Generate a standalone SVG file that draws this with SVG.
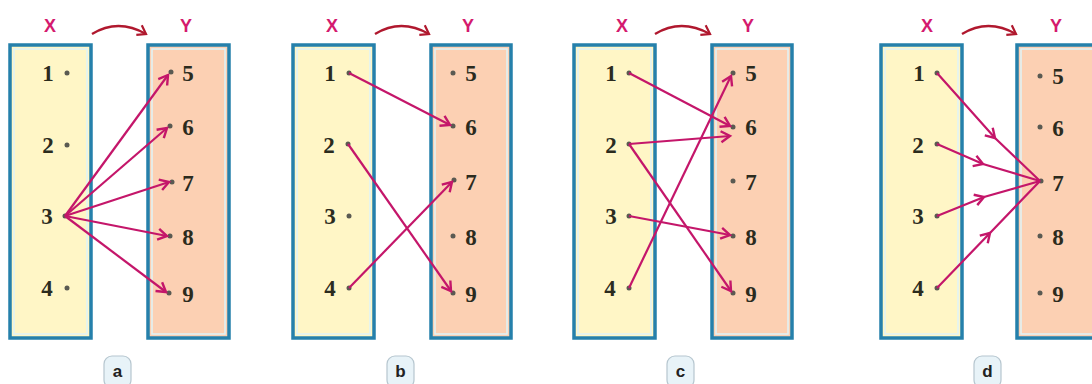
<svg xmlns="http://www.w3.org/2000/svg" width="1092" height="384" viewBox="0 0 1092 384">
<style>
.bx{stroke:#2580ab;stroke-width:3.5}
.xf{fill:#fff6c6}
.yf{fill:#fcd0b3}
.in{fill:none;stroke:#dff3f8;stroke-width:1.5}
.num{font-family:"Liberation Serif",serif;font-weight:bold;font-size:23px;fill:#2b2b1e;text-anchor:middle}
.hd{font-family:"Liberation Sans",sans-serif;font-weight:bold;font-size:18px;fill:#d41a6e;text-anchor:middle}
.dot{fill:#5a5a52}
.ar{fill:none;stroke:#c4166a;stroke-width:2.2;marker-end:url(#ah)}
.am{fill:none;stroke:#c4166a;stroke-width:2.2;marker-mid:url(#ah)}
.cv{fill:none;stroke:#b0182e;stroke-width:2.4;marker-end:url(#ch)}
.bg{fill:#e8f3f8;stroke:#b6c6cf;stroke-width:1.2}
.bt{font-family:"Liberation Sans",sans-serif;font-weight:bold;font-size:17px;fill:#222;text-anchor:middle}
</style>
<defs>
<marker id="ah" markerUnits="userSpaceOnUse" markerWidth="14" markerHeight="14" refX="11" refY="7" orient="auto">
<path d="M2,1.5 L11,7 L2,12.5" fill="none" stroke="#c4166a" stroke-width="2.4"/>
</marker>
<marker id="ch" markerUnits="userSpaceOnUse" markerWidth="14" markerHeight="14" refX="10" refY="7" orient="auto">
<path d="M2,1.5 L10,7 L2,12.5" fill="none" stroke="#b0182e" stroke-width="2.2"/>
</marker>
</defs>

<g id="panel-a">
<text class="hd" x="50" y="32">X</text>
<text class="hd" x="186" y="32">Y</text>
<path class="cv" d="M92,34 Q118,18 146,34"/>
<g id="a-X"><rect class="bx xf" x="10" y="45" width="81" height="293"/><rect class="in" x="14" y="49" width="73" height="285"/>
<text class="num" x="48" y="81">1</text><circle class="dot" cx="67" cy="73" r="2.5"/>
<text class="num" x="48" y="153">2</text><circle class="dot" cx="67" cy="145" r="2.5"/>
<text class="num" x="47" y="224">3</text><circle class="dot" cx="65" cy="216" r="2.5"/>
<text class="num" x="47" y="296">4</text><circle class="dot" cx="67" cy="288" r="2.5"/>
</g>
<g id="a-Y"><rect class="bx yf" x="148" y="45" width="81" height="293"/><rect class="in" x="152" y="49" width="73" height="285"/>
<circle class="dot" cx="171" cy="72" r="2.5"/><text class="num" x="188" y="81">5</text>
<circle class="dot" cx="170" cy="126" r="2.5"/><text class="num" x="188" y="135">6</text>
<circle class="dot" cx="172" cy="182" r="2.5"/><text class="num" x="188" y="191">7</text>
<circle class="dot" cx="170" cy="236" r="2.5"/><text class="num" x="188" y="245">8</text>
<circle class="dot" cx="169" cy="293" r="2.5"/><text class="num" x="188" y="302">9</text>
</g>
<g id="a-badge"><rect class="bg" x="104" y="356" width="27" height="32" rx="8"/><text class="bt" x="117.5" y="377">a</text></g>
</g>

<g id="panel-b">
<text class="hd" x="332" y="32">X</text>
<text class="hd" x="468" y="32">Y</text>
<path class="cv" d="M375,34 Q401,18 429,34"/>
<g id="b-X"><rect class="bx xf" x="293" y="45" width="81" height="293"/><rect class="in" x="297" y="49" width="73" height="285"/>
<text class="num" x="330" y="81">1</text><circle class="dot" cx="349" cy="73" r="2.5"/>
<text class="num" x="329" y="153">2</text><circle class="dot" cx="348" cy="144" r="2.5"/>
<text class="num" x="330" y="224">3</text><circle class="dot" cx="349" cy="216" r="2.5"/>
<text class="num" x="330" y="296">4</text><circle class="dot" cx="349" cy="288" r="2.5"/>
</g>
<g id="b-Y"><rect class="bx yf" x="431" y="45" width="80" height="293"/><rect class="in" x="435" y="49" width="72" height="285"/>
<circle class="dot" cx="453" cy="73" r="2.5"/><text class="num" x="471" y="81">5</text>
<circle class="dot" cx="453" cy="126" r="2.5"/><text class="num" x="471" y="135">6</text>
<circle class="dot" cx="454" cy="180" r="2.5"/><text class="num" x="471" y="190">7</text>
<circle class="dot" cx="453" cy="236" r="2.5"/><text class="num" x="471" y="245">8</text>
<circle class="dot" cx="453" cy="293" r="2.5"/><text class="num" x="471" y="302">9</text>
</g>
<g id="b-badge"><rect class="bg" x="387" y="356" width="27" height="32" rx="8"/><text class="bt" x="400.5" y="377">b</text></g>
</g>

<g id="panel-c">
<text class="hd" x="622" y="32">X</text>
<text class="hd" x="748" y="32">Y</text>
<path class="cv" d="M655,34 Q681,18 710,34"/>
<g id="c-X"><rect class="bx xf" x="574" y="45" width="81" height="293"/><rect class="in" x="578" y="49" width="73" height="285"/>
<text class="num" x="611" y="81">1</text><circle class="dot" cx="629" cy="73" r="2.5"/>
<text class="num" x="611" y="153">2</text><circle class="dot" cx="629" cy="144" r="2.5"/>
<text class="num" x="611" y="224">3</text><circle class="dot" cx="629" cy="216" r="2.5"/>
<text class="num" x="610" y="296">4</text><circle class="dot" cx="629" cy="288" r="2.5"/>
</g>
<g id="c-Y"><rect class="bx yf" x="712" y="45" width="80" height="293"/><rect class="in" x="716" y="49" width="72" height="285"/>
<circle class="dot" cx="733" cy="73" r="2.5"/><text class="num" x="751" y="81">5</text>
<circle class="dot" cx="733" cy="127" r="2.5"/><text class="num" x="751" y="135">6</text>
<circle class="dot" cx="733" cy="181" r="2.5"/><text class="num" x="751" y="190">7</text>
<circle class="dot" cx="733" cy="236" r="2.5"/><text class="num" x="751" y="245">8</text>
<circle class="dot" cx="733" cy="293" r="2.5"/><text class="num" x="751" y="302">9</text>
</g>
<g id="c-badge"><rect class="bg" x="667" y="356" width="27" height="32" rx="8"/><text class="bt" x="680.5" y="377">c</text></g>
</g>

<g id="panel-d">
<text class="hd" x="927" y="32">X</text>
<text class="hd" x="1056" y="32">Y</text>
<path class="cv" d="M962,34 Q988,18 1016,34"/>
<g id="d-X"><rect class="bx xf" x="881" y="45" width="81" height="293"/><rect class="in" x="885" y="49" width="73" height="285"/>
<text class="num" x="919" y="81">1</text><circle class="dot" cx="937" cy="73" r="2.5"/>
<text class="num" x="918" y="153">2</text><circle class="dot" cx="937" cy="144" r="2.5"/>
<text class="num" x="918" y="224">3</text><circle class="dot" cx="937" cy="216" r="2.5"/>
<text class="num" x="918" y="296">4</text><circle class="dot" cx="937" cy="288" r="2.5"/>
</g>
<g id="d-Y"><rect class="bx yf" x="1017" y="45" width="90" height="293"/><rect class="in" x="1021" y="49" width="82" height="285"/>
<circle class="dot" cx="1040" cy="76" r="2.5"/><text class="num" x="1058" y="84">5</text>
<circle class="dot" cx="1040" cy="127" r="2.5"/><text class="num" x="1058" y="136">6</text>
<circle class="dot" cx="1041" cy="181" r="2.5"/><text class="num" x="1058" y="191">7</text>
<circle class="dot" cx="1040" cy="236" r="2.5"/><text class="num" x="1058" y="245">8</text>
<circle class="dot" cx="1040" cy="293" r="2.5"/><text class="num" x="1058" y="302">9</text>
</g>
<g id="d-badge"><rect class="bg" x="974" y="356" width="27" height="32" rx="8"/><text class="bt" x="987.5" y="377">d</text></g>
</g>

<g id="connectors">
<path class="ar" d="M65,216 L168,75"/>
<path class="ar" d="M65,216 L167,128"/>
<path class="ar" d="M65,216 L169,182"/>
<path class="ar" d="M65,216 L167,236"/>
<path class="ar" d="M65,216 L166,292"/>

<path class="ar" d="M349,73 L450,125"/>
<path class="ar" d="M348,144 L451,291"/>
<path class="ar" d="M349,288 L452,182"/>

<path class="ar" d="M629,73 L730,126"/>
<path class="ar" d="M629,144 L730,136"/>
<path class="ar" d="M629,144 L731,291"/>
<path class="ar" d="M629,216 L730,235"/>
<path class="ar" d="M629,288 L731,76"/>

<path class="am" d="M937,73 L995,138 L1040,181"/>
<path class="am" d="M937,144 L983,164 L1040,181"/>
<path class="am" d="M937,216 L984,197 L1040,181"/>
<path class="am" d="M937,288 L990,233 L1040,181"/>
</g>
</svg>
